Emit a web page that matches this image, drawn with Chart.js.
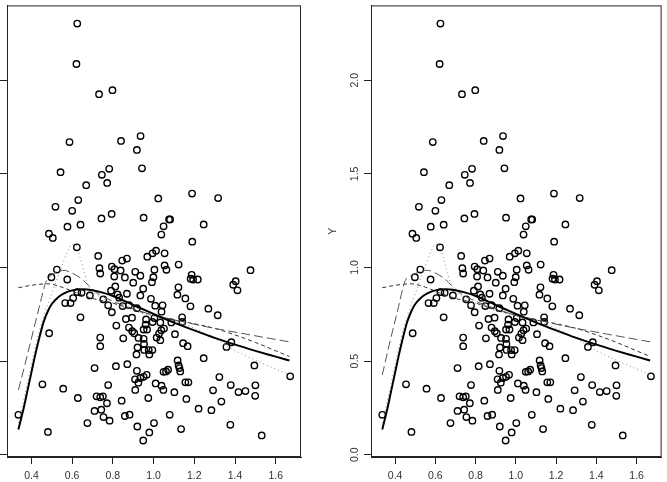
<!DOCTYPE html>
<html>
<head>
<meta charset="utf-8">
<script src="https://cdn.jsdelivr.net/npm/chart.js@4"></script>
<style>
  html, body { margin: 0; padding: 0; background: #fff; overflow: hidden; }
  body { width: 667px; height: 482px; position: relative; }
  canvas { position: absolute; top: 0; }
  #left { left: -44px; }
  #right { left: 320px; }
</style>
</head>
<body>
<canvas id="left" width="364" height="482"></canvas>
<canvas id="right" width="347" height="482"></canvas>
<script>
// observed points (same in both panels)
const obsX = [
  0.625, 0.621, 0.732, 0.798, 0.587, 0.840, 0.936, 0.918, 0.543, 0.746, 0.782, 0.772, 0.943, 0.669,
  0.518, 0.630, 0.600, 1.023, 1.189, 1.317, 0.744, 0.794, 0.951, 1.076, 1.081, 0.577, 0.641, 1.049,
  1.246, 0.486, 0.505, 1.038, 1.190,
  0.623, 0.728, 0.969, 0.995, 1.012, 1.054, 0.869, 0.846, 0.525, 0.498, 0.576, 0.734, 0.738, 0.795,
  0.808, 0.838, 0.807, 0.859, 0.910, 0.935, 0.900, 1.004, 0.999, 0.992, 1.054, 1.063, 1.123, 1.187,
  1.182, 1.194, 1.217, 1.476, 1.391, 1.403, 1.412, 0.625, 0.646, 0.605, 0.566, 0.592, 0.687, 0.812,
  0.791, 0.823, 0.831, 0.869, 0.753, 0.777, 0.848, 0.795, 0.879, 0.918, 0.949, 0.935, 0.987, 1.008,
  1.044, 1.039, 1.122, 1.117, 1.156, 1.181, 0.641, 1.269, 1.315, 0.487, 0.817, 0.864, 0.894, 0.879,
  0.895, 0.905, 0.961, 0.951, 0.968, 0.995, 1.004, 1.027, 1.038, 1.051, 1.087, 1.140, 1.141, 1.105,
  1.145, 1.167, 0.738, 0.738, 0.851, 0.926, 0.951, 0.953, 0.921, 0.916, 0.954, 0.976, 0.994, 0.979,
  1.015, 1.033, 1.358, 1.382, 1.246, 1.118, 1.123, 1.127, 1.131, 0.710, 0.815, 0.871, 0.918, 0.909,
  0.925, 0.951, 0.966, 0.935, 1.049, 1.061, 1.071, 1.495, 1.671, 1.323, 0.454, 0.556, 0.777, 1.010,
  1.039, 1.048, 0.910, 1.156, 1.171, 1.379, 1.417, 1.451, 1.500, 1.499, 1.292, 0.628, 0.720, 0.738,
  0.751, 0.771, 0.843, 0.974, 1.102, 1.161, 1.333, 0.710, 0.743, 0.754, 0.784, 0.859, 0.882, 1.079,
  1.221, 1.284, 0.336, 0.675, 0.920, 1.002, 0.979, 0.949, 1.135, 1.377, 1.531, 0.481, 1.033, 0.963
];
const obsY = [
  2.303, 2.087, 1.926, 1.947, 1.670, 1.676, 1.702, 1.628, 1.509, 1.495, 1.527, 1.452, 1.530, 1.440,
  1.324, 1.360, 1.303, 1.369, 1.395, 1.371, 1.262, 1.286, 1.266, 1.257, 1.257, 1.218, 1.229, 1.220,
  1.230, 1.181, 1.158, 1.176, 1.138,
  1.108, 1.062, 1.058, 1.076, 1.090, 1.076, 1.048, 1.037, 0.989, 0.948, 0.936, 0.996, 0.968, 1.005,
  0.991, 0.984, 0.952, 0.947, 0.977, 0.956, 0.919, 0.988, 0.948, 0.922, 1.011, 0.988, 1.016, 0.961,
  0.940, 0.936, 0.936, 0.986, 0.908, 0.927, 0.878, 0.869, 0.865, 0.837, 0.810, 0.810, 0.851, 0.899,
  0.876, 0.856, 0.839, 0.860, 0.830, 0.798, 0.794, 0.761, 0.799, 0.783, 0.887, 0.851, 0.833, 0.796,
  0.798, 0.764, 0.894, 0.855, 0.835, 0.793, 0.734, 0.780, 0.745, 0.649, 0.690, 0.725, 0.732, 0.679,
  0.660, 0.649, 0.695, 0.669, 0.669, 0.709, 0.730, 0.647, 0.665, 0.674, 0.707, 0.734, 0.709, 0.644,
  0.596, 0.580, 0.626, 0.580, 0.622, 0.624, 0.619, 0.592, 0.573, 0.536, 0.560, 0.559, 0.559, 0.536,
  0.626, 0.612, 0.576, 0.601, 0.516, 0.504, 0.477, 0.463, 0.445, 0.463, 0.473, 0.484, 0.448, 0.403,
  0.385, 0.416, 0.427, 0.410, 0.443, 0.445, 0.454, 0.477, 0.419, 0.415, 0.376, 0.353, 0.372, 0.381,
  0.369, 0.346, 0.346, 0.387, 0.387, 0.372, 0.335, 0.340, 0.371, 0.315, 0.344, 0.303, 0.312, 0.307,
  0.312, 0.275, 0.289, 0.303, 0.334, 0.298, 0.284, 0.234, 0.241, 0.201, 0.182, 0.207, 0.214, 0.213,
  0.246, 0.238, 0.213, 0.169, 0.151, 0.169, 0.119, 0.076, 0.137, 0.160, 0.103, 0.122, 0.707, 0.723
];

// fitted curves
const solidX = [0.336, 0.36, 0.38, 0.40, 0.42, 0.44, 0.46, 0.48, 0.50, 0.53, 0.56, 0.60, 0.65, 0.70,
  0.75, 0.80, 0.90, 1.00, 1.10, 1.20, 1.30, 1.40, 1.50, 1.60, 1.667];
const solidY = [0.135, 0.24, 0.34, 0.44, 0.54, 0.63, 0.71, 0.765, 0.805, 0.84, 0.862, 0.878, 0.884, 0.879,
  0.866, 0.848, 0.80, 0.752, 0.706, 0.664, 0.624, 0.588, 0.555, 0.524, 0.503];

const longDashX = [0.336, 0.37, 0.41, 0.45, 0.47, 0.50, 0.53, 0.56, 0.60, 0.64, 0.68, 0.72, 0.80, 0.90,
  1.00, 1.10, 1.23, 1.45, 1.667];
const longDashLeftY = [0.346, 0.49, 0.665, 0.84, 0.92, 0.96, 0.978, 0.985, 0.97, 0.945, 0.905, 0.865, 0.82, 0.78,
  0.745, 0.722, 0.69, 0.645, 0.603];
const longDashRightY = [0.426, 0.585, 0.76, 0.93, 0.95, 0.968, 0.98, 0.985, 0.97, 0.945, 0.905, 0.865, 0.82, 0.78,
  0.745, 0.722, 0.69, 0.645, 0.603];

const shortDashX = [0.336, 0.40, 0.48, 0.55, 0.62, 0.70, 0.80, 0.90, 1.00, 1.10, 1.20, 1.30, 1.40, 1.50, 1.60, 1.667];
const shortDashY = [0.892, 0.905, 0.913, 0.895, 0.865, 0.835, 0.81, 0.775, 0.745, 0.72, 0.70, 0.675, 0.64, 0.60, 0.555, 0.525];

const dottedX = [0.336, 0.38, 0.42, 0.46, 0.50, 0.54, 0.58, 0.60, 0.62, 0.64, 0.66, 0.68, 0.72, 0.80, 0.90,
  1.00, 1.10, 1.20, 1.30, 1.40, 1.50, 1.60, 1.667];
const dottedY = [0.17, 0.38, 0.58, 0.74, 0.86, 0.98, 1.09, 1.125, 1.12, 1.05, 0.97, 0.90, 0.855, 0.81, 0.77,
  0.74, 0.715, 0.675, 0.62, 0.556, 0.505, 0.458, 0.428];

const xTicks = [0.4, 0.6, 0.8, 1.0, 1.2, 1.4, 1.6];
const yTicks = [0.0, 0.5, 1.0, 1.5, 2.0];
const yTitle = 'Y';

const FONT = '"Liberation Sans", Arial, sans-serif';

function pairs(xs, ys) {
  return xs.map((x, i) => ({ x: x, y: ys[i] }));
}

function curve(data, color, width, dash, order) {
  return {
    type: 'line',
    data: data,
    borderColor: color,
    borderWidth: width,
    borderDash: dash,
    pointRadius: 0,
    fill: false,
    cubicInterpolationMode: 'monotone',
    order: order,
  };
}

// R style box + rotated y labels
const rFrame = {
  id: 'rFrame',
  afterDraw(chart) {
    const { ctx, chartArea: a, scales } = chart;
    ctx.save();
    ctx.strokeStyle = '#222';
    ctx.lineWidth = 1;
    ctx.strokeRect(a.left + 0.5, a.top + 0.5, a.right - a.left - 1, a.bottom - a.top - 1);
    ctx.fillStyle = '#333';
    ctx.font = '10.5px ' + FONT;
    ctx.textAlign = 'center';
    ctx.textBaseline = 'middle';
    yTicks.forEach(v => {
      const y = scales.y.getPixelForValue(v);
      ctx.save();
      ctx.translate(a.left - 16, y);
      ctx.rotate(-Math.PI / 2);
      ctx.fillText(v.toFixed(1), 0, 0);
      ctx.restore();
    });
    ctx.save();
    ctx.translate(a.left - 38, (a.top + a.bottom) / 2);
    ctx.rotate(-Math.PI / 2);
    ctx.fillText(yTitle, 0, 0);
    ctx.restore();
    ctx.restore();
  }
};

function makePanel(canvasId, longDashY, padRight) {
  const ctx = document.getElementById(canvasId);
  return new Chart(ctx, {
    type: 'scatter',
    data: {
      datasets: [
        {
          type: 'scatter',
          data: pairs(obsX, obsY),
          pointStyle: 'circle',
          pointRadius: 3.2,
          pointBorderWidth: 1.4,
          pointBorderColor: '#000',
          pointBackgroundColor: 'rgba(0,0,0,0)',
          order: 10,
        },
        curve(pairs(dottedX, dottedY), '#8a8a8a', 1, [1, 3], 4),
        curve(pairs(shortDashX, shortDashY), '#333', 1, [4, 3], 3),
        curve(pairs(longDashX, longDashY), '#555', 1, [9, 4], 2),
        curve(pairs(solidX, solidY), '#000', 2, [], 1),
      ]
    },
    options: {
      responsive: false,
      devicePixelRatio: 1,
      animation: false,
      layout: { padding: { top: 5, right: padRight, left: 0, bottom: 0 } },
      plugins: { legend: { display: false }, tooltip: { enabled: false } },
      scales: {
        x: {
          type: 'linear',
          min: 0.28,
          max: 1.724,
          afterBuildTicks: s => { s.ticks = xTicks.map(v => ({ value: v })); },
          afterFit: s => { s.height = 25; },
          grid: { display: true, drawOnChartArea: false, drawTicks: true, tickLength: 7, color: '#222' },
          border: { display: true, color: '#222' },
          ticks: {
            color: '#333',
            padding: 6,
            maxRotation: 0,
            font: { family: FONT, size: 10.5 },
            callback: v => Number(v).toFixed(1),
          }
        },
        y: {
          type: 'linear',
          min: -0.012,
          max: 2.40,
          afterBuildTicks: s => { s.ticks = yTicks.map(v => ({ value: v })); },
          afterFit: s => { s.width = 51; },
          grid: { display: true, drawOnChartArea: false, drawTicks: true, tickLength: 7, color: '#222' },
          border: { display: true, color: '#222' },
          ticks: { display: false }
        }
      }
    },
    plugins: [rFrame]
  });
}

makePanel('left', longDashLeftY, 19);
makePanel('right', longDashRightY, 3);
</script>
</body>
</html>
